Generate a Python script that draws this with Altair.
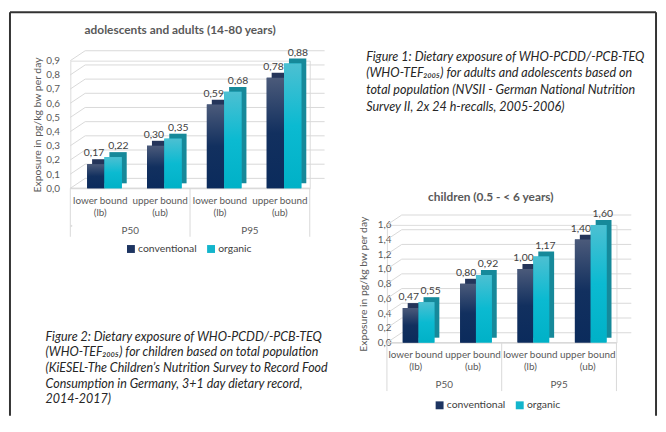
import altair as alt
import pandas as pd

# ---------------- data ----------------
groups = ["P50", "P50", "P95", "P95"]
group_names = ["P50", "P95"]
bound_labels = ["lower bound\n(lb)", "upper bound\n(ub)", "lower bound\n(lb)", "upper bound\n(ub)"]
series_names = ["conventional", "organic"]

adults_conventional = [0.17, 0.30, 0.59, 0.78]
adults_organic = [0.22, 0.35, 0.68, 0.88]
adults_ticks = [0.0, 0.1, 0.2, 0.3, 0.4, 0.5, 0.6, 0.7, 0.8, 0.9]

children_conventional = [0.47, 0.80, 1.00, 1.40]
children_organic = [0.55, 0.92, 1.17, 1.60]
children_ticks = [0.0, 0.2, 0.4, 0.6, 0.8, 1.0, 1.2, 1.4, 1.6]

title_adults = "adolescents and adults (14-80 years)"
title_children = "children (0.5 - < 6 years)"
y_title = "Exposure in pg/kg bw per day"

caption1_lines = [
    "Figure 1: Dietary exposure of WHO-PCDD/-PCB-TEQ",
    "(WHO-TEF\u2082\u2080\u2080\u2085)  for adults and adolescents based on",
    "total population (NVSII - German National Nutrition",
    "Survey II, 2x 24 h-recalls, 2005-2006)",
]
caption2_lines = [
    "Figure 2: Dietary exposure of WHO-PCDD/-PCB-TEQ",
    "(WHO-TEF\u2082\u2080\u2080\u2085)  for children based on  total population",
    "(KiESEL-The Children\u2019s Nutrition Survey to Record Food",
    "Consumption in Germany, 3+1 day dietary record,",
    "2014-2017)",
]

# ---------------- style ----------------
FONT = "Lato"
TXT = "#595959"
GRID = "#d9d9d9"
SOLID = ["#1d3461", "#13b5cc"]
DEPTH = ["#25355a", "#16899a"]
GRADS = [
    alt.LinearGradient(gradient="linear", x1=0, x2=0, y1=0, y2=1, stops=[
        alt.GradientStop(offset=0, color="#4b5a7a"),
        alt.GradientStop(offset=0.5, color="#12305f"),
        alt.GradientStop(offset=1, color="#0b2b5c")]),
    alt.LinearGradient(gradient="linear", x1=0, x2=0, y1=0, y2=1, stops=[
        alt.GradientStop(offset=0, color="#4cc0d2"),
        alt.GradientStop(offset=0.5, color="#0bbad1"),
        alt.GradientStop(offset=1, color="#00b1c7")]),
]
D = 5      # 3D depth
GX, GY = 15, 10  # back-wall gridline shift


def make_chart(conv, org, ticks, title, w, h, label_pad, title_pad, title_x, title_y,
               legend_x, legend_y, bar_start, bar_w, frame=None):
    n = len(groups)
    cats = [f"{g}-{b}" for g, b in zip(groups, bound_labels)]
    df = pd.DataFrame({
        "cat": cats * 2,
        "bound": bound_labels * 2,
        "group": groups * 2,
        "series": [series_names[0]] * n + [series_names[1]] * n,
        "value": list(conv) + list(org),
    })
    grid_df = pd.DataFrame({"v": ticks})
    grp_df = pd.DataFrame({"group": group_names})
    one_df = pd.DataFrame({"t": [title]})

    step = w / n
    pin = 1 - bar_w / step
    outer = pin * step

    def bscale(start):
        return alt.Scale(domain=cats, paddingInner=pin, paddingOuter=pin / 2, align=start / outer)

    cat_scale = alt.Scale(domain=cats, paddingInner=0, paddingOuter=0)
    grp_scale = alt.Scale(domain=group_names, paddingInner=0, paddingOuter=0)
    yscale = alt.Scale(domain=[0, ticks[-1]], nice=False)
    yaxis = alt.Axis(values=ticks, labelExpr="replace(format(datum.value, '.1f'), '.', ',')",
                     title=y_title, domain=False, ticks=False, grid=False,
                     labelPadding=label_pad, titlePadding=title_pad, labelFontSize=10,
                     titleFontSize=10.5, titleFontWeight="normal", labelColor=TXT,
                     titleColor=TXT, labelFont=FONT, titleFont=FONT)

    def Y(field):
        return alt.Y(f"{field}:Q", scale=yscale, axis=yaxis)

    cscale = alt.Scale(domain=series_names, range=SOLID)
    legend = alt.Legend(orient="none", legendX=legend_x, legendY=legend_y, direction="horizontal",
                        title=None, symbolType="square", symbolSize=64, symbolStrokeWidth=0,
                        labelFontSize=10.5, labelFont=FONT, labelColor="#404040",
                        columnPadding=9, labelOffset=2, padding=0)

    layers = []
    # back-wall gridlines
    layers.append(alt.Chart(grid_df).mark_rule(color=GRID, yOffset=-GY, y2Offset=-GY).encode(
        x=alt.value(GX), x2=alt.value(w + GX), y=Y("v"), y2="v:Q"))
    layers.append(alt.Chart(grid_df).mark_rule(color=GRID, y2Offset=-GY).encode(
        x=alt.value(0), x2=alt.value(GX), y=Y("v"), y2="v:Q"))
    # category box
    layers.append(alt.Chart(grp_df).mark_rule(color=GRID).encode(
        x=alt.value(0), x2=alt.value(w), y=alt.value(h)))
    layers.append(alt.Chart(grp_df).mark_rule(color=GRID).encode(
        x=alt.X("group:N", scale=grp_scale, axis=None, bandPosition=0),
        y=alt.value(h), y2=alt.value(h + 49)))
    layers.append(alt.Chart(grp_df).transform_filter(
        alt.datum.group == group_names[-1]).mark_rule(color=GRID).encode(
        x=alt.X("group:N", scale=grp_scale, axis=None, bandPosition=1),
        y=alt.value(h), y2=alt.value(h + 49)))
    layers.append(alt.Chart(df).transform_filter(alt.datum.series == series_names[0]).mark_text(
        align="center", baseline="top", lineBreak="\n", lineHeight=12, fontSize=10, font=FONT,
        color=TXT).encode(
        x=alt.X("cat:N", scale=cat_scale, axis=None), y=alt.value(h + 8), text="bound:N"))
    layers.append(alt.Chart(grp_df).mark_text(
        align="center", baseline="middle", fontSize=10, font=FONT, color=TXT).encode(
        x=alt.X("group:N", scale=grp_scale, axis=None), y=alt.value(h + 43), text="group:N"))

    # bars
    for i, s in enumerate(series_names):
        start = bar_start + i * bar_w
        sub = alt.Chart(df).transform_filter(alt.datum.series == s)
        layers.append(sub.mark_bar(color=DEPTH[i], yOffset=-D, y2Offset=-D).encode(
            x=alt.X("cat:N", scale=bscale(start + D), axis=None), y=Y("value")))
        layers.append(sub.mark_bar().encode(
            x=alt.X("cat:N", scale=bscale(start), axis=None), y=Y("value"),
            color=alt.Color("series:N", scale=cscale, legend=legend)))
        layers.append(sub.mark_bar(color=GRADS[i]).encode(
            x=alt.X("cat:N", scale=bscale(start), axis=None), y=Y("value")))
        layers.append(sub.transform_calculate(
            lbl="replace(format(datum.value, '.2f'), '.', ',')").mark_text(
            align="center", baseline="bottom", dy=-(D + 1), fontSize=10.5, font=FONT,
            color="#404040").encode(
            x=alt.X("cat:N", scale=bscale(start), axis=None), y=Y("value"), text="lbl:N"))

    layers.append(alt.Chart(one_df).mark_text(
        align="center", fontWeight="bold", fontSize=12, font=FONT, color=TXT,
        baseline="middle").encode(
        x=alt.value(title_x), y=alt.value(title_y), text="t:N"))

    if frame is not None:
        fl, ft, fr, fb = frame
        layers.append(alt.Chart(one_df).mark_rule(color="#333333", strokeWidth=2).encode(
            x=alt.value(fl), y=alt.value(ft), y2=alt.value(fb)))
        layers.append(alt.Chart(one_df).mark_rule(color="#333333", strokeWidth=2).encode(
            x=alt.value(fl), x2=alt.value(fr), y=alt.value(ft)))
        layers.append(alt.Chart(one_df).mark_rule(color="#333333", strokeWidth=2).encode(
            x=alt.value(fr), y=alt.value(ft), y2=alt.value(fb)))

    return alt.layer(*layers).resolve_scale(x="independent").properties(width=w, height=h)


def caption(lines, x, y, line_h, size, w, h):
    cdf = pd.DataFrame({"t": ["\n".join(lines)]})
    return alt.Chart(cdf).mark_text(
        align="left", baseline="top", lineBreak="\n", lineHeight=line_h, fontSize=size,
        fontStyle="italic", font=FONT, color="#262626").encode(
        x=alt.value(x), y=alt.value(y), text="t:N").properties(width=w, height=h)


c1 = make_chart(adults_conventional, adults_organic, adults_ticks, title_adults,
                w=242, h=129, label_pad=11, title_pad=3, title_x=111, title_y=-31,
                legend_x=56, legend_y=129 + 56, bar_start=17, bar_w=17.5,
                frame=(-61, -49, 592, 359))
c2 = make_chart(children_conventional, children_organic, children_ticks, title_children,
                w=232, h=119, label_pad=-4, title_pad=9, title_x=105, title_y=-28,
                legend_x=48, legend_y=119 + 58, bar_start=16, bar_w=16)
cap1 = caption(caption1_lines, -21, -10, 17, 12.7, 1, 1)
cap2 = caption(caption2_lines, -25, 107, 15.8, 12.6, 1, 1)

chart = alt.concat(c1, cap1, cap2, c2, columns=2, spacing={"row": 37, "column": 78},
                   bounds="flush").resolve_scale(color="independent").properties(
    padding={"left": 0, "top": 0, "right": 0, "bottom": 0}
).configure_view(stroke="transparent", strokeWidth=0).configure(font=FONT)

chart.save("out.html", embed_options={"renderer": "svg", "actions": False})
